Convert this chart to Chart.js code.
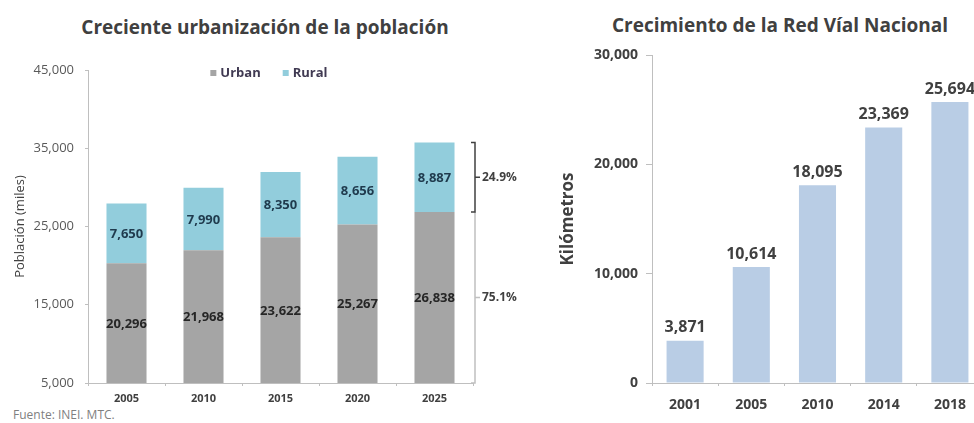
<!DOCTYPE html>
<html>
<head>
<meta charset="utf-8">
<script src="https://cdn.jsdelivr.net/npm/chart.js@4.4.1/dist/chart.umd.min.js"></script>
<style>
  html, body { margin: 0; padding: 0; background: #fff; overflow: hidden; width: 974px; height: 423px; }
  .title { position: absolute; font-family: 'Open Sans', sans-serif; font-weight: bold; font-size: 19px;
           line-height: 22px; color: #404040; white-space: nowrap; transform: translateX(-50%); }
  .source { position: absolute; left: 13px; top: 407px; font-family: 'Open Sans', sans-serif;
            font-size: 12px; line-height: 16px; color: #7f7f7f; white-space: nowrap; }
  canvas { position: absolute; top: 0; }
</style>
</head>
<body>
<div class="title" style="left:265px; top:16px;">Creciente urbanización de la población</div>
<div class="title" style="left:780px; top:14px;">Crecimiento de la Red Víal Nacional</div>
<div class="source">Fuente: INEI. MTC.</div>
<canvas id="pop" width="530" height="423" style="left:0px;"></canvas>
<canvas id="road" width="480" height="423" style="left:520px;"></canvas>
<script>
// data
const popYears = ["2005", "2010", "2015", "2020", "2025"];
const urbanValues = [20296, 21968, 23622, 25267, 26838];
const ruralValues = [7650, 7990, 8350, 8656, 8887];
const popTicks = [5000, 15000, 25000, 35000, 45000];

const roadYears = ["2001", "2005", "2010", "2014", "2018"];
const roadKm = [3871, 10614, 18095, 23369, 25694];
const roadTicks = [0, 10000, 20000, 30000];

Chart.defaults.font.family = "'Open Sans', sans-serif";
Chart.defaults.color = "#404040";

function fmt(v) {
  return Number(v).toLocaleString("en-US");
}

// labels inside the stacked bars, centred on the visible part of each segment
const stackLabels = {
  id: "stackLabels",
  afterDatasetsDraw(chart) {
    const ctx = chart.ctx;
    const area = chart.chartArea;
    ctx.save();
    ctx.font = "bold 13px 'Open Sans', sans-serif";
    ctx.textAlign = "center";
    ctx.textBaseline = "middle";
    chart.data.datasets.forEach(function (ds, di) {
      const meta = chart.getDatasetMeta(di);
      meta.data.forEach(function (bar, i) {
        const bottom = Math.min(bar.base, area.bottom);
        ctx.fillStyle = di === 0 ? "#262626" : "#1f3a4d";
        ctx.fillText(fmt(ds.data[i]), bar.x, (bar.y + bottom) / 2 + 1);
      });
    });
    ctx.restore();
  }
};

// legend drawn inside the plot, at the height of the top tick
const innerLegend = {
  id: "innerLegend",
  afterDraw(chart) {
    const ctx = chart.ctx;
    const area = chart.chartArea;
    ctx.save();
    ctx.font = "bold 13px 'Open Sans', sans-serif";
    ctx.textBaseline = "middle";
    const items = chart.data.datasets;
    const box = 6, gap = 4, spacing = 22;
    let total = 0;
    items.forEach(function (ds, i) {
      total += box + gap + ctx.measureText(ds.label).width + (i ? spacing : 0);
    });
    let x = area.left + area.width * 0.47 - total / 2;
    const y = area.top + 3;
    items.forEach(function (ds, i) {
      if (i) x += spacing;
      ctx.fillStyle = ds.backgroundColor;
      ctx.fillRect(x, y - box / 2, box, box);
      x += box + gap;
      ctx.fillStyle = "#403a52";
      ctx.fillText(ds.label, x, y);
      x += ctx.measureText(ds.label).width;
    });
    ctx.restore();
  }
};

// bracket with the urban / rural shares of the last year
const shareBracket = {
  id: "shareBracket",
  afterDraw(chart) {
    const ctx = chart.ctx;
    const y = chart.scales.y;
    const area = chart.chartArea;
    const last = urbanValues.length - 1;
    const urban = urbanValues[last], rural = ruralValues[last];
    const total = urban + rural;
    const yTop = y.getPixelForValue(total);
    const yMid = y.getPixelForValue(urban);
    const yBot = area.bottom;
    const x = area.right + 2;
    ctx.save();
    ctx.strokeStyle = "#c0c0c0";
    ctx.lineWidth = 1.5;
    ctx.beginPath();
    ctx.moveTo(x, yMid);
    ctx.lineTo(x, yBot);
    ctx.lineTo(x - 4, yBot);
    ctx.moveTo(x, (yMid + yBot) / 2);
    ctx.lineTo(x + 5, (yMid + yBot) / 2);
    ctx.stroke();
    ctx.strokeStyle = "#404040";
    ctx.beginPath();
    ctx.moveTo(x - 4, yTop);
    ctx.lineTo(x, yTop);
    ctx.lineTo(x, yMid);
    ctx.lineTo(x - 4, yMid);
    ctx.moveTo(x, (yTop + yMid) / 2);
    ctx.lineTo(x + 5, (yTop + yMid) / 2);
    ctx.stroke();
    ctx.fillStyle = "#404040";
    ctx.font = "bold 12px 'Open Sans', sans-serif";
    ctx.textBaseline = "middle";
    ctx.fillText((rural / total * 100).toFixed(1) + "%", x + 7, (yTop + yMid) / 2);
    ctx.fillText((urban / total * 100).toFixed(1) + "%", x + 7, (yMid + yBot) / 2);
    ctx.restore();
  }
};

// value labels above the single bars
const topLabels = {
  id: "topLabels",
  afterDatasetsDraw(chart) {
    const ctx = chart.ctx;
    ctx.save();
    ctx.font = "bold 16px 'Open Sans', sans-serif";
    ctx.fillStyle = "#404040";
    ctx.textAlign = "center";
    ctx.textBaseline = "bottom";
    const meta = chart.getDatasetMeta(0);
    meta.data.forEach(function (bar, i) {
      ctx.fillText(fmt(chart.data.datasets[0].data[i]), bar.x, bar.y - 5);
    });
    ctx.restore();
  }
};

new Chart(document.getElementById("pop").getContext("2d"), {
  type: "bar",
  data: {
    labels: popYears,
    datasets: [
      { label: "Urban", data: urbanValues, backgroundColor: "#a5a5a5" },
      { label: "Rural", data: ruralValues, backgroundColor: "#92cddc" }
    ]
  },
  options: {
    responsive: false,
    animation: false,
    layout: { padding: { top: 70, right: 57, left: 0, bottom: 0 } },
    datasets: { bar: { barPercentage: 0.52, categoryPercentage: 1 } },
    plugins: { legend: { display: false }, tooltip: { enabled: false } },
    scales: {
      x: {
        stacked: true,
        grid: { drawOnChartArea: false, tickLength: 3, color: "#bfbfbf" },
        border: { color: "#bfbfbf" },
        ticks: { font: { size: 11, weight: "bold" }, color: "#404040", padding: 6 },
        afterFit(scale) { scale.height = 40; }
      },
      y: {
        stacked: true,
        min: 5000,
        max: 45000,
        afterBuildTicks(scale) { scale.ticks = popTicks.map(v => ({ value: v })); },
        grid: { drawOnChartArea: false, tickLength: 3, color: "#bfbfbf" },
        border: { color: "#bfbfbf" },
        ticks: { font: { size: 13 }, color: "#595959", padding: 11, callback: v => fmt(v) },
        title: { display: true, text: "Población (miles)", font: { size: 13 }, color: "#404040",
                 padding: { top: 12, bottom: 0 } },
        afterFit(scale) { scale.width = 88; }
      }
    }
  },
  plugins: [stackLabels, innerLegend, shareBracket]
});

new Chart(document.getElementById("road").getContext("2d"), {
  type: "bar",
  data: {
    labels: roadYears,
    datasets: [{ label: "Kilómetros", data: roadKm, backgroundColor: "#b9cde5" }]
  },
  options: {
    responsive: false,
    animation: false,
    layout: { padding: { top: 55, right: 17, left: 0, bottom: 0 } },
    datasets: { bar: { barPercentage: 0.56, categoryPercentage: 1 } },
    plugins: { legend: { display: false }, tooltip: { enabled: false } },
    scales: {
      x: {
        grid: { drawOnChartArea: false, tickLength: 3, color: "#bfbfbf" },
        border: { color: "#bfbfbf" },
        ticks: { font: { size: 14, weight: "bold" }, color: "#404040", padding: 11 },
        afterFit(scale) { scale.height = 40; }
      },
      y: {
        min: 0,
        max: 30000,
        afterBuildTicks(scale) { scale.ticks = roadTicks.map(v => ({ value: v })); },
        grid: { drawOnChartArea: false, tickLength: 6, color: "#bfbfbf" },
        border: { color: "#bfbfbf" },
        ticks: { font: { size: 14, weight: "bold" }, color: "#404040", padding: 8, callback: v => fmt(v) },
        title: { display: true, text: "Kilómetros", font: { size: 17, weight: "bold" }, color: "#404040",
                 padding: { top: 38, bottom: 0 } },
        afterFit(scale) { scale.width = 132; }
      }
    }
  },
  plugins: [topLabels]
});
</script>
</body>
</html>
